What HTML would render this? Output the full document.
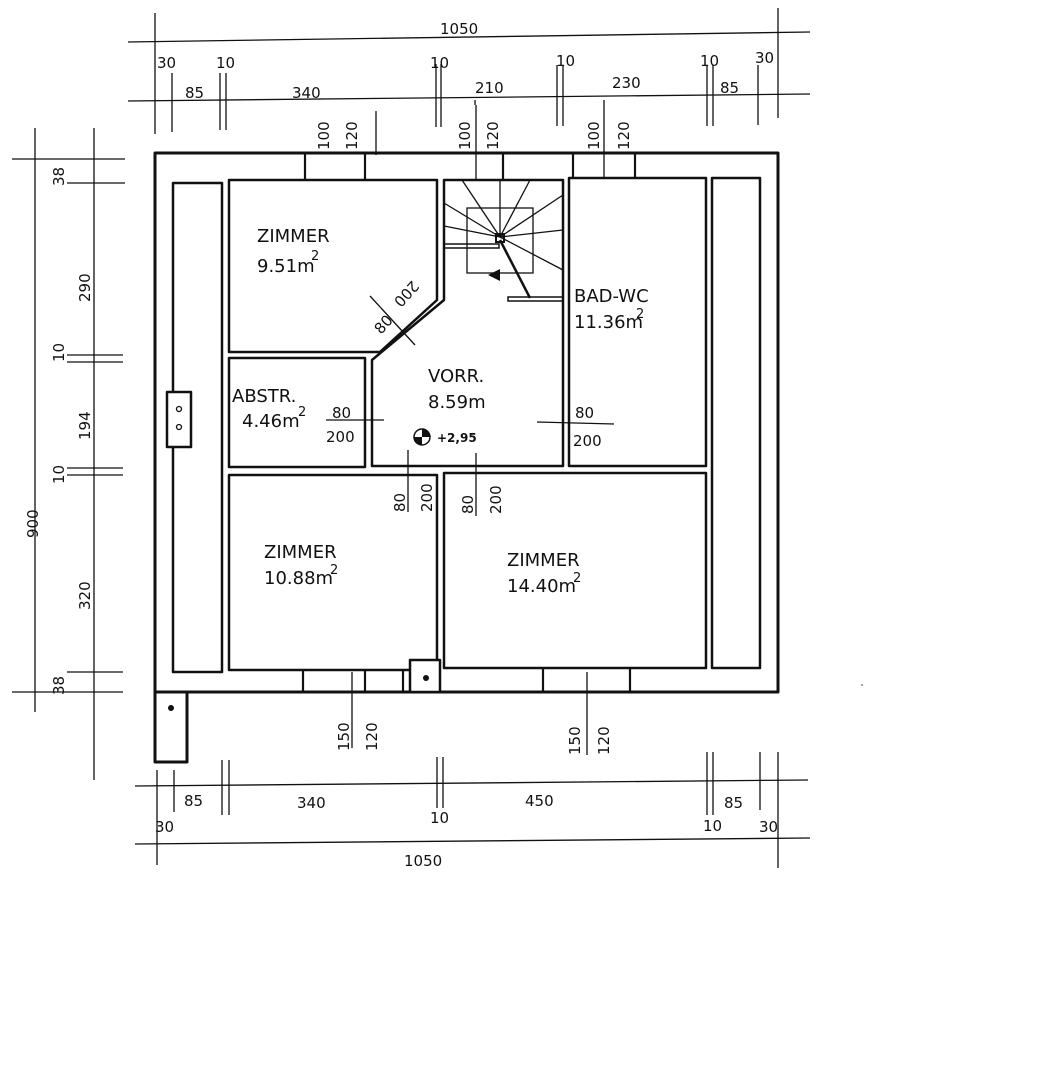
<!DOCTYPE html>
<html><head><meta charset="utf-8"><style>
html,body{margin:0;padding:0;background:#fff;}
svg{display:block;}
text{font-family:"DejaVu Sans","Liberation Sans",sans-serif;fill:#111;}
</style></head><body>
<svg width="1055" height="1080" viewBox="0 0 1055 1080" xmlns="http://www.w3.org/2000/svg">
<g stroke="#111" fill="none" stroke-width="1.3">
<!-- top dims -->
<line x1="128" y1="42" x2="810" y2="32"/>
<line x1="128" y1="101" x2="810" y2="94"/>
<line x1="155" y1="13" x2="155" y2="134"/>
<line x1="778" y1="8" x2="778" y2="118"/>
<line x1="172" y1="73" x2="172" y2="132"/>
<line x1="220" y1="73" x2="220" y2="130"/><line x1="226" y1="73" x2="226" y2="130"/>
<line x1="376" y1="111" x2="376" y2="155"/>
<line x1="436" y1="64" x2="436" y2="127"/><line x1="441" y1="64" x2="441" y2="127"/>
<line x1="476" y1="105" x2="476" y2="180"/>
<line x1="475" y1="105" x2="475" y2="100"/>
<line x1="557" y1="65" x2="557" y2="126"/><line x1="563" y1="65" x2="563" y2="126"/>
<line x1="604" y1="100" x2="604" y2="178"/>
<line x1="707" y1="65" x2="707" y2="126"/><line x1="713" y1="65" x2="713" y2="126"/>
<line x1="758" y1="65" x2="758" y2="125"/>
<!-- left dims -->
<line x1="35" y1="128" x2="35" y2="712"/>
<line x1="94" y1="128" x2="94" y2="780"/>
<line x1="12" y1="159" x2="125" y2="159"/>
<line x1="67" y1="183" x2="125" y2="183"/>
<line x1="67" y1="355" x2="123" y2="355"/><line x1="67" y1="362" x2="123" y2="362"/>
<line x1="67" y1="468" x2="123" y2="468"/><line x1="67" y1="475" x2="123" y2="475"/>
<line x1="67" y1="672" x2="123" y2="672"/>
<line x1="12" y1="692" x2="123" y2="692"/>
<!-- bottom dims -->
<line x1="135" y1="786" x2="808" y2="780"/>
<line x1="135" y1="844" x2="810" y2="838"/>
<line x1="157" y1="770" x2="157" y2="865"/>
<line x1="174" y1="770" x2="174" y2="812"/>
<line x1="222" y1="760" x2="222" y2="815"/><line x1="229" y1="760" x2="229" y2="815"/>
<line x1="352" y1="672" x2="352" y2="748"/>
<line x1="437" y1="757" x2="437" y2="808"/><line x1="443" y1="757" x2="443" y2="808"/>
<line x1="587" y1="672" x2="587" y2="755"/>
<line x1="707" y1="752" x2="707" y2="815"/><line x1="713" y1="752" x2="713" y2="815"/>
<line x1="760" y1="752" x2="760" y2="810"/>
<line x1="778" y1="752" x2="778" y2="868"/>
</g>
<g stroke="#111" fill="none" stroke-width="3" stroke-linejoin="round">
<!-- outer wall -->
<rect x="155" y="153" width="623" height="539"/>
<rect x="155" y="692" width="32" height="70"/>
<!-- strips -->
<rect x="173" y="183" width="49" height="489" stroke-width="2.5"/>
<rect x="712" y="178" width="48" height="490" stroke-width="2.5"/>
<rect x="167" y="392" width="24" height="55" stroke-width="2.5" fill="#fff"/>
<!-- rooms -->
<path d="M229 180 H437 V300 L380 352 H229 Z" stroke-width="2.5"/>
<path d="M444 180 H563 V466 H372 V360 L444 300 Z" stroke-width="2.5"/>
<rect x="569" y="178" width="137" height="288" stroke-width="2.5"/>
<rect x="229" y="358" width="136" height="109" stroke-width="2.5"/>
<rect x="229" y="475" width="208" height="195" stroke-width="2.5"/>
<rect x="444" y="473" width="262" height="195" stroke-width="2.5"/>
<rect x="410" y="660" width="30" height="32" stroke-width="2.5" fill="#fff"/>
</g>
<g stroke="#111" stroke-width="2.2">
<!-- window jambs top -->
<line x1="305" y1="154" x2="305" y2="180"/><line x1="365" y1="154" x2="365" y2="180"/>
<line x1="503" y1="154" x2="503" y2="180"/>
<line x1="573" y1="154" x2="573" y2="178"/><line x1="635" y1="154" x2="635" y2="178"/>
<line x1="303" y1="670" x2="303" y2="692"/><line x1="365" y1="670" x2="365" y2="692"/>
<line x1="403" y1="670" x2="403" y2="692"/>
<line x1="543" y1="668" x2="543" y2="692"/><line x1="630" y1="668" x2="630" y2="692"/>
</g>
<g stroke="#111" stroke-width="1.3" fill="none">
<!-- stairs -->
<line x1="444" y1="203" x2="500" y2="237"/>
<line x1="444" y1="226" x2="500" y2="237"/>
<line x1="462" y1="180" x2="500" y2="237"/>
<line x1="500" y1="180" x2="500" y2="237"/>
<line x1="530" y1="180" x2="500" y2="237"/>
<line x1="563" y1="195" x2="500" y2="237"/>
<line x1="563" y1="230" x2="500" y2="237"/>
<line x1="563" y1="270" x2="500" y2="237"/>
<rect x="467" y="208" width="66" height="65"/>
<rect x="496" y="234" width="8" height="8" stroke-width="2"/>
<line x1="500" y1="240" x2="530" y2="298" stroke-width="2.5"/>
<rect x="444" y="244" width="55" height="4" stroke-width="1.5"/>
<rect x="508" y="297" width="55" height="4" stroke-width="1.5"/>
<line x1="500" y1="275" x2="492" y2="275"/>
<!-- door marks -->
<line x1="370" y1="296" x2="415" y2="345"/>
<line x1="326" y1="420" x2="384" y2="420"/>
<line x1="537" y1="422" x2="614" y2="424"/>
<line x1="408" y1="450" x2="408" y2="512"/>
<line x1="476" y1="453" x2="476" y2="516"/>
</g>
<polygon points="488,275 500,269 500,281" fill="#111"/>
<circle cx="171" cy="708" r="3" fill="#111"/>
<circle cx="426" cy="678" r="3" fill="#111"/>
<circle cx="179" cy="409" r="2.5" fill="none" stroke="#111" stroke-width="1.3"/>
<circle cx="179" cy="427" r="2.5" fill="none" stroke="#111" stroke-width="1.3"/>
<circle cx="422" cy="437" r="8" fill="#fff" stroke="#111" stroke-width="1.5"/>
<path d="M422 437 V429 A8 8 0 0 1 430 437 Z M422 437 V445 A8 8 0 0 1 414 437 Z" fill="#111"/>
<g font-size="15">
<text x="440" y="34">1050</text>
<text x="157" y="68">30</text><text x="185" y="98">85</text><text x="216" y="68">10</text>
<text x="292" y="98">340</text><text x="430" y="68">10</text><text x="475" y="93">210</text>
<text x="556" y="66">10</text><text x="612" y="88">230</text><text x="700" y="66">10</text>
<text x="720" y="93">85</text><text x="755" y="63">30</text>
<text x="184" y="806">85</text><text x="297" y="808">340</text><text x="430" y="823">10</text>
<text x="525" y="806">450</text><text x="703" y="831">10</text><text x="724" y="808">85</text>
<text x="155" y="832">30</text><text x="759" y="832">30</text><text x="404" y="866">1050</text>
</g>
<g font-size="15">
<text transform="translate(64,186) rotate(-90)">38</text>
<text transform="translate(90,302) rotate(-90)">290</text>
<text transform="translate(64,362) rotate(-90)">10</text>
<text transform="translate(90,440) rotate(-90)">194</text>
<text transform="translate(64,484) rotate(-90)">10</text>
<text transform="translate(38,538) rotate(-90)">900</text>
<text transform="translate(90,610) rotate(-90)">320</text>
<text transform="translate(64,695) rotate(-90)">38</text>
<text transform="translate(329,150) rotate(-90)">100</text>
<text transform="translate(357,150) rotate(-90)">120</text>
<text transform="translate(470,150) rotate(-90)">100</text>
<text transform="translate(498,150) rotate(-90)">120</text>
<text transform="translate(599,150) rotate(-90)">100</text>
<text transform="translate(629,150) rotate(-90)">120</text>
<text transform="translate(349,751) rotate(-90)">150</text>
<text transform="translate(377,751) rotate(-90)">120</text>
<text transform="translate(580,755) rotate(-90)">150</text>
<text transform="translate(609,755) rotate(-90)">120</text>
<text transform="translate(405,512) rotate(-90)">80</text>
<text transform="translate(432,512) rotate(-90)">200</text>
<text transform="translate(473,514) rotate(-90)">80</text>
<text transform="translate(501,514) rotate(-90)">200</text>
<text transform="translate(381,335) rotate(-48)">80</text>
<text transform="translate(393,301) rotate(132)" text-anchor="end">200</text>
</g>
<g font-size="15">
<text x="332" y="418">80</text><text x="326" y="442">200</text>
<text x="575" y="418">80</text><text x="573" y="446">200</text>
</g>
<g font-size="18">
<text x="257" y="242">ZIMMER</text><text x="257" y="272">9.51m</text><text x="311" y="260" font-size="13">2</text>
<text x="574" y="302">BAD-WC</text><text x="574" y="328">11.36m</text><text x="636" y="318" font-size="13">2</text>
<text x="428" y="382">VORR.</text><text x="428" y="408">8.59m</text>
<text x="232" y="402">ABSTR.</text><text x="242" y="427">4.46m</text><text x="298" y="416" font-size="13">2</text>
<text x="264" y="558">ZIMMER</text><text x="264" y="584">10.88m</text><text x="330" y="574" font-size="13">2</text>
<text x="507" y="566">ZIMMER</text><text x="507" y="592">14.40m</text><text x="573" y="582" font-size="13">2</text>
</g>
<text x="437" y="442" font-size="12" font-weight="bold">+2,95</text>
<circle cx="862" cy="685" r="0.8" fill="#333"/>
</svg>
</body></html>
